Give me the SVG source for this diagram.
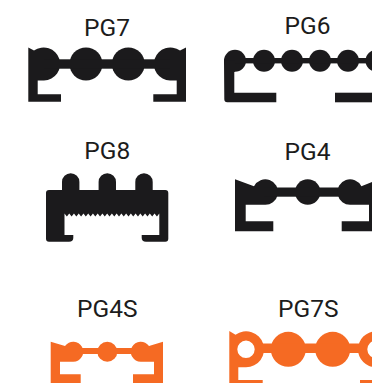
<svg xmlns="http://www.w3.org/2000/svg" width="372" height="383" viewBox="0 0 372 383">
<style>
text{font-family:Roboto,"Liberation Sans",sans-serif;font-size:24.5px;fill:#1c1c1c;text-anchor:middle}
.k{fill:#1b1a1c}
.o{fill:#f56a23}
</style>
<rect width="372" height="383" fill="#fff"/>
<g id="PG7">
<text x="107" y="36">PG7</text>
<g class="k">
<path d="M28.3 47.5L34 50.6A16.5 16.5 0 1 1 44 80.5H37.7V94.3H61V101.7H28.3Z"/>
<path d="M186 47.5L180 50.6A16.5 16.5 0 1 0 170 80.5H176.7V94.3H153.3V101.7H186Z"/>
<circle cx="86" cy="64" r="16.5"/><circle cx="128.3" cy="64" r="16.5"/>
<rect x="44" y="59.3" width="126" height="9.4"/>
</g>
</g>
<g id="PG6">
<text x="307.5" y="33.7">PG6</text>
<g class="k">
<circle cx="235" cy="60.7" r="11"/><circle cx="264" cy="60.7" r="11"/><circle cx="292" cy="60.7" r="11"/><circle cx="320" cy="60.7" r="11"/><circle cx="348" cy="60.7" r="11"/><circle cx="376.5" cy="60.7" r="11"/>
<rect x="235" y="58" width="142" height="5.4"/>
<path d="M224 60.7H235V71.7H234.3V92.7H276.3V102.3H227.3Q224.3 102.3 224.3 99.3Z"/>
<rect x="335" y="92.7" width="37" height="9.6"/>
</g>
</g>
<g id="PG8">
<text x="107.3" y="159.3">PG8</text>
<path class="k" d="M62 190V182A8.7 8.7 0 0 1 79.4 182V190H98.6V182A8.7 8.7 0 0 1 116 182V190H135.3V182A8.7 8.7 0 0 1 152.7 182V190H165.3Q168.3 190 168.3 193V238.7Q168.3 241.7 165.3 241.7H146Q141.7 241.7 141.7 238V235H159.3V213.5l-2.37 3l-2.37-3l-2.37 3l-2.37-3l-2.37 3l-2.37-3l-2.37 3l-2.37-3l-2.37 3l-2.37-3l-2.37 3l-2.37-3l-2.37 3l-2.37-3l-2.37 3l-2.37-3l-2.37 3l-2.37-3l-2.37 3l-2.37-3l-2.37 3l-2.37-3l-2.37 3l-2.37-3l-2.37 3l-2.37-3l-2.37 3l-2.37-3l-2.37 3l-2.37-3l-2.37 3l-2.37-3l-2.37 3l-2.37-3l-2.37 3l-2.37-3l-2.37 3l-2.37-3l-2.37 3l-2.37-3V235H73.3V238Q73.3 241.7 69 241.7H49Q46 241.7 46 238.7V193Q46 190 49 190Z"/>
</g>
<g id="PG4">
<text x="307.5" y="160">PG4</text>
<g class="k">
<path d="M235 179.3L254 186.3A12.7 12.7 0 1 1 264.3 204.7H245.7V221.3H273.3V231.3H235Z"/>
<circle cx="307.7" cy="192" r="12.7"/>
<rect x="264" y="187.5" width="87" height="9.2"/>
<path d="M372 182L361.4 186.3A12.7 12.7 0 1 0 351 204.7H369V221.3H341.7V231.3H372Z"/>
</g>
</g>
<g id="PG4S">
<text x="107.3" y="317.3">PG4S</text>
<g class="o">
<path d="M50.7 341.7L65 346A10 10 0 1 1 73.3 361.7H60V374.3H80.7V383H50.7Z"/>
<circle cx="107.3" cy="351.7" r="10"/>
<rect x="73" y="348" width="68" height="6"/>
<path d="M163 341.7L149 346A10 10 0 1 0 140.7 361.7H154V374.3H133V383H163Z"/>
</g>
</g>
<g id="PG7S">
<text x="308.3" y="316.7">PG7S</text>
<g class="o">
<path fill-rule="evenodd" d="M229.3 331L235.5 334.7A18 18 0 1 1 246 367.3H238.3V380H262.7V383H229.3ZM246 340.6a8.7 8.7 0 1 0 0 17.4a8.7 8.7 0 1 0 0-17.4Z"/>
<circle cx="288.3" cy="349.3" r="17.5"/><circle cx="332.7" cy="349.3" r="17.5"/>
<rect x="262" y="343.5" width="97" height="9.5"/>
<path fill-rule="evenodd" d="M376 331.3a18 18 0 1 0 0 36a18 18 0 1 0 0-36ZM376 340.6a8.7 8.7 0 1 1 0 17.4a8.7 8.7 0 1 1 0-17.4Z"/>
<rect x="360" y="380" width="12" height="3"/>
</g>
</g>
</svg>
